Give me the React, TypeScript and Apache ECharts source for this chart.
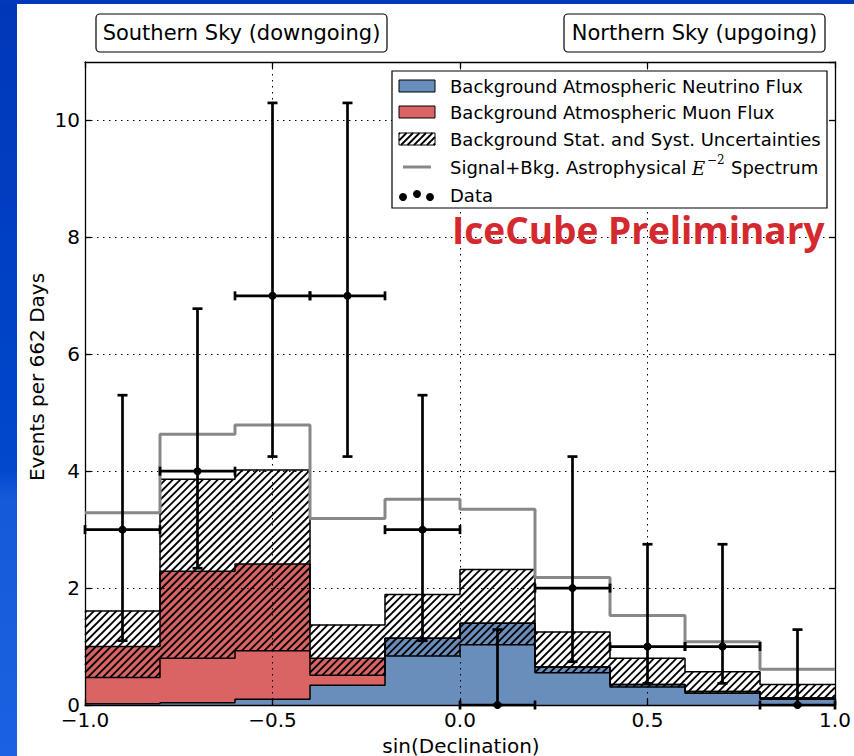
import { useEffect, useRef } from "react";
import * as echarts from "echarts";

// Declination bins (sin δ) and per-bin expectations / observations
const binEdges = [-1.0, -0.8, -0.6, -0.4, -0.2, 0.0, 0.2, 0.4, 0.6, 0.8, 1.0];
const neutrinoFlux = [0.02, 0.04, 0.1, 0.34, 1.14, 1.4, 0.65, 0.35, 0.23, 0.12];
const muonFlux = [0.98, 2.25, 2.31, 0.46, 0.0, 0.0, 0.0, 0.0, 0.0, 0.0];
const uncertaintyLow = [0.47, 0.8, 0.93, 0.51, 0.84, 1.03, 0.55, 0.31, 0.2, 0.1];
const uncertaintyHigh = [1.61, 3.86, 4.02, 1.37, 1.89, 2.32, 1.25, 0.8, 0.57, 0.35];
const signalPlusBkg = [3.29, 4.63, 4.79, 3.19, 3.52, 3.35, 2.18, 1.53, 1.08, 0.61];
const dataCounts = [3, 4, 7, 7, 3, 0, 2, 1, 1, 0];
const dataErrLow = [1.1, 2.34, 4.25, 4.25, 1.1, 0.0, 0.74, 0.37, 0.37, 0.0];
const dataErrHigh = [5.3, 6.78, 10.3, 10.3, 5.3, 1.29, 4.25, 2.75, 2.75, 1.29];

const legendLabels = [
  "Background Atmospheric Neutrino Flux",
  "Background Atmospheric Muon Flux",
  "Background Stat. and Syst. Uncertainties",
  "Signal+Bkg. Astrophysical ",
  "Data",
];

const BLUE = "#6a8ebb";
const RED = "#da6363";
const GRAY = "#888888";
const FONT = "DejaVu Sans";

// diagonal "/" hatching clipped to a pixel rectangle
function hatchLines(x0: number, y0: number, x1: number, y1: number, step: number, lw: number, z?: number) {
  const out: any[] = [];
  const cStart = Math.ceil((x0 + y0) / step) * step;
  for (let c = cStart; c <= x1 + y1; c += step) {
    const xa = Math.max(x0, c - y1);
    const xb = Math.min(x1, c - y0);
    if (xb - xa > 0.4) {
      const el: any = {
        type: "line",
        shape: { x1: xa, y1: c - xa, x2: xb, y2: c - xb },
        style: { stroke: "#000", lineWidth: lw },
      };
      if (z !== undefined) el.z = z;
      out.push(el);
    }
  }
  return out;
}

const stepData = (vals: number[]) =>
  binEdges.map((e, i) => [e, vals[Math.min(i, vals.length - 1)]]);

export default function App() {
  const ref = useRef<HTMLDivElement>(null);

  useEffect(() => {
    if (!ref.current) return;
    const chart = echarts.init(ref.current, undefined, { renderer: "svg" });

    const totalBkg = neutrinoFlux.map((v, i) => v + muonFlux[i]);
    const fillData = neutrinoFlux.map((v, i) => [
      binEdges[i],
      binEdges[i + 1],
      v,
      muonFlux[i],
      uncertaintyLow[i],
      uncertaintyHigh[i],
    ]);
    const pointData = dataCounts.map((n, i) => [
      (binEdges[i] + binEdges[i + 1]) / 2,
      n,
      dataErrLow[i],
      dataErrHigh[i],
      binEdges[i],
      binEdges[i + 1],
    ]);

    const outline = (name: string, vals: number[]) => ({
      name,
      type: "line",
      xAxisIndex: 0,
      yAxisIndex: 0,
      step: "end",
      showSymbol: false,
      symbol: "none",
      z: 4,
      data: stepData(vals),
      lineStyle: { color: "#000", width: 1.5 },
      silent: true,
    });

    // legend
    const lx = 392, ly = 71, lw = 435, lh = 137;
    const rowY = [86, 112, 139, 167, 195];
    const legendEls: any[] = [
      { type: "rect", z: 100, shape: { x: lx, y: ly, width: lw, height: lh }, style: { fill: "#fff", stroke: "#000", lineWidth: 1.2 } },
      { type: "rect", z: 101, shape: { x: 399, y: rowY[0] - 6, width: 36, height: 12 }, style: { fill: BLUE, stroke: "#000", lineWidth: 1 } },
      { type: "rect", z: 101, shape: { x: 399, y: rowY[1] - 6, width: 36, height: 12 }, style: { fill: RED, stroke: "#000", lineWidth: 1 } },
      { type: "rect", z: 101, shape: { x: 399, y: rowY[2] - 6, width: 36, height: 12 }, style: { fill: "#fff", stroke: "#000", lineWidth: 1 } },
      ...hatchLines(399, rowY[2] - 6, 435, rowY[2] + 6, 6.5, 1.8, 102),
      { type: "line", z: 101, shape: { x1: 403, y1: rowY[3], x2: 431, y2: rowY[3] }, style: { stroke: GRAY, lineWidth: 3 } },
      { type: "circle", z: 101, shape: { cx: 403, cy: rowY[4] + 2, r: 4 }, style: { fill: "#000" } },
      { type: "circle", z: 101, shape: { cx: 417, cy: rowY[4] - 1, r: 4 }, style: { fill: "#000" } },
      { type: "circle", z: 101, shape: { cx: 430, cy: rowY[4] + 2, r: 4 }, style: { fill: "#000" } },
    ];
    legendLabels.forEach((t, i) => {
      legendEls.push({
        type: "text",
        z: 101,
        x: 450,
        y: rowY[i],
        style: { text: t, fontFamily: FONT, fontSize: 18, fill: "#000", align: "left", verticalAlign: "middle" },
      });
    });
    legendEls.push(
      { type: "text", z: 101, x: 692, y: rowY[3] + 1, style: { text: "E", fontFamily: "DejaVu Serif", fontStyle: "italic", fontSize: 18, fill: "#000", align: "left", verticalAlign: "middle" } },
      { type: "text", z: 101, x: 707, y: rowY[3] - 7, style: { text: "−2", fontFamily: "DejaVu Serif", fontSize: 12, fill: "#000", align: "left", verticalAlign: "middle" } },
      { type: "text", z: 101, x: 731, y: rowY[3], style: { text: "Spectrum", fontFamily: FONT, fontSize: 18, fill: "#000", align: "left", verticalAlign: "middle" } }
    );

    const option: any = {
      animation: false,
      backgroundColor: "#fff",
      grid: { left: 85, right: 19, top: 62, bottom: 51, containLabel: false },
      xAxis: [
        {
          type: "value",
          position: "bottom",
          min: -1,
          max: 1,
          interval: 0.5,
          z: 3,
          axisLine: { show: true, onZero: false, lineStyle: { color: "#000", width: 1.3 } },
          axisTick: { show: true, inside: true, length: 6, lineStyle: { color: "#000", width: 1.3 } },
          axisLabel: {
            color: "#000",
            fontFamily: FONT,
            fontSize: 20,
            margin: 5,
            formatter: (v: number) => v.toFixed(1).replace("-", "−"),
          },
          splitLine: { show: true, lineStyle: { color: "#000", width: 1, type: [1.5, 4.5] } },
        },
        {
          type: "value",
          position: "top",
          min: -1,
          max: 1,
          interval: 0.5,
          z: 3,
          axisLine: { show: true, onZero: false, lineStyle: { color: "#000", width: 1.3 } },
          axisTick: { show: true, inside: true, length: 6, lineStyle: { color: "#000", width: 1.3 } },
          axisLabel: { show: false },
          splitLine: { show: false },
        },
      ],
      yAxis: [
        {
          type: "value",
          position: "left",
          min: 0,
          max: 11,
          interval: 2,
          z: 3,
          axisLine: { show: true, onZero: false, lineStyle: { color: "#000", width: 1.3 } },
          axisTick: { show: true, inside: true, length: 6, lineStyle: { color: "#000", width: 1.3 } },
          axisLabel: {
            color: "#000",
            fontFamily: FONT,
            fontSize: 20,
            margin: 5,
            showMaxLabel: false,
            formatter: (v: number) => (v > 10 ? "" : String(v)),
          },
          splitLine: { show: true, lineStyle: { color: "#000", width: 1, type: [1.5, 4.5] } },
        },
        {
          type: "value",
          position: "right",
          min: 0,
          max: 11,
          interval: 2,
          z: 3,
          axisLine: { show: true, onZero: false, lineStyle: { color: "#000", width: 1.3 } },
          axisTick: { show: true, inside: true, length: 6, lineStyle: { color: "#000", width: 1.3 } },
          axisLabel: { show: false },
          splitLine: { show: false },
        },
      ],
      series: [
        {
          name: "Background",
          type: "custom",
          xAxisIndex: 0,
          yAxisIndex: 0,
          z: 1,
          silent: true,
          dimensions: ["x0", "x1", "nu", "mu", "lo", "hi"],
          encode: { x: [0, 1], y: [2, 4, 5] },
          data: fillData,
          renderItem: (_p: any, api: any) => {
            const x0 = api.value(0), x1 = api.value(1);
            const nu = api.value(2), mu = api.value(3);
            const lo = api.value(4), hi = api.value(5);
            const X0 = api.coord([x0, 0])[0];
            const X1 = api.coord([x1, 0])[0];
            const Y = (v: number) => api.coord([x0, v])[1];
            const children: any[] = [
              { type: "rect", shape: { x: X0, y: Y(nu), width: X1 - X0, height: Y(0) - Y(nu) }, style: { fill: BLUE } },
            ];
            if (mu > 0) {
              children.push({ type: "rect", shape: { x: X0, y: Y(nu + mu), width: X1 - X0, height: Y(nu) - Y(nu + mu) }, style: { fill: RED } });
            }
            children.push(...hatchLines(X0, Y(hi), X1, Y(lo), 7.5, 1.8));
            return { type: "group", children };
          },
        },
        outline("Neutrino edge", neutrinoFlux),
        outline("Total edge", totalBkg),
        outline("Band low", uncertaintyLow),
        outline("Band high", uncertaintyHigh),
        {
          name: "Signal+Bkg",
          type: "line",
          xAxisIndex: 0,
          yAxisIndex: 0,
          step: "end",
          showSymbol: false,
          symbol: "none",
          z: 5,
          silent: true,
          data: stepData(signalPlusBkg),
          lineStyle: { color: GRAY, width: 3 },
        },
        {
          name: "Data",
          type: "custom",
          xAxisIndex: 0,
          yAxisIndex: 0,
          z: 6,
          silent: true,
          clip: false,
          dimensions: ["x", "n", "lo", "hi", "xl", "xr"],
          encode: { x: [0, 4, 5], y: [1, 2, 3] },
          data: pointData,
          renderItem: (_p: any, api: any) => {
            const x = api.value(0), n = api.value(1);
            const lo = api.value(2), hi = api.value(3);
            const xl = api.value(4), xr = api.value(5);
            const p = api.coord([x, n]);
            const pLo = api.coord([x, lo]);
            const pHi = api.coord([x, hi]);
            const pL = api.coord([xl, n]);
            const pR = api.coord([xr, n]);
            const st = { stroke: "#000", lineWidth: 2.7 };
            return {
              type: "group",
              children: [
                { type: "line", shape: { x1: pLo[0], y1: pLo[1], x2: pHi[0], y2: pHi[1] }, style: st },
                { type: "line", shape: { x1: pHi[0] - 5, y1: pHi[1], x2: pHi[0] + 5, y2: pHi[1] }, style: st },
                { type: "line", shape: { x1: pLo[0] - 5, y1: pLo[1], x2: pLo[0] + 5, y2: pLo[1] }, style: st },
                { type: "line", shape: { x1: pL[0], y1: pL[1], x2: pR[0], y2: pR[1] }, style: st },
                { type: "line", shape: { x1: pL[0], y1: pL[1] - 4.5, x2: pL[0], y2: pL[1] + 4.5 }, style: st },
                { type: "line", shape: { x1: pR[0], y1: pR[1] - 4.5, x2: pR[0], y2: pR[1] + 4.5 }, style: st },
                { type: "circle", shape: { cx: p[0], cy: p[1], r: 4 }, style: { fill: "#000" } },
              ],
            };
          },
        },
      ],
      graphic: [
        // slide frame
        {
          type: "rect",
          z: 0,
          silent: true,
          shape: { x: 0, y: 0, width: 17, height: 756 },
          style: {
            fill: new echarts.graphic.LinearGradient(0, 0, 0, 1, [
              { offset: 0, color: "#0037b9" },
              { offset: 0.62, color: "#0048cc" },
              { offset: 0.66, color: "#155ad8" },
              { offset: 1, color: "#1a62e2" },
            ]),
          },
        },
        { type: "rect", z: 0, silent: true, shape: { x: 0, y: 0, width: 854, height: 4 }, style: { fill: "#0038bb" } },
        // hemisphere labels
        { type: "rect", z: 100, shape: { x: 96, y: 14, width: 291, height: 38, r: 4 }, style: { fill: "#fff", stroke: "#000", lineWidth: 1.2 } },
        { type: "text", z: 101, x: 241.5, y: 33, style: { text: "Southern Sky (downgoing)", fontFamily: FONT, fontSize: 21, fill: "#000", align: "center", verticalAlign: "middle" } },
        { type: "rect", z: 100, shape: { x: 564, y: 14, width: 261, height: 38, r: 4 }, style: { fill: "#fff", stroke: "#000", lineWidth: 1.2 } },
        { type: "text", z: 101, x: 694.5, y: 33, style: { text: "Northern Sky (upgoing)", fontFamily: FONT, fontSize: 21, fill: "#000", align: "center", verticalAlign: "middle" } },
        ...legendEls,
        { type: "text", z: 101, x: 452, y: 229, style: { text: "IceCube Preliminary", fontFamily: "Open Sans", fontWeight: "bold", fontSize: 37, fill: "#d42a2f", align: "left", verticalAlign: "middle" } },
        // axis titles
        { type: "text", z: 101, x: 461, y: 746, style: { text: "sin(Declination)", fontFamily: FONT, fontSize: 20, fill: "#000", align: "center", verticalAlign: "middle" } },
        { type: "text", z: 101, x: 37, y: 377, rotation: Math.PI / 2, style: { text: "Events per 662 Days", fontFamily: FONT, fontSize: 20, fill: "#000", align: "center", verticalAlign: "middle" } },
      ],
    };

    chart.setOption(option);
    return () => chart.dispose();
  }, []);

  return (
    <div
      ref={ref}
      style={{ position: "fixed", left: 0, top: 0, width: 854, height: 756 }}
    />
  );
}
